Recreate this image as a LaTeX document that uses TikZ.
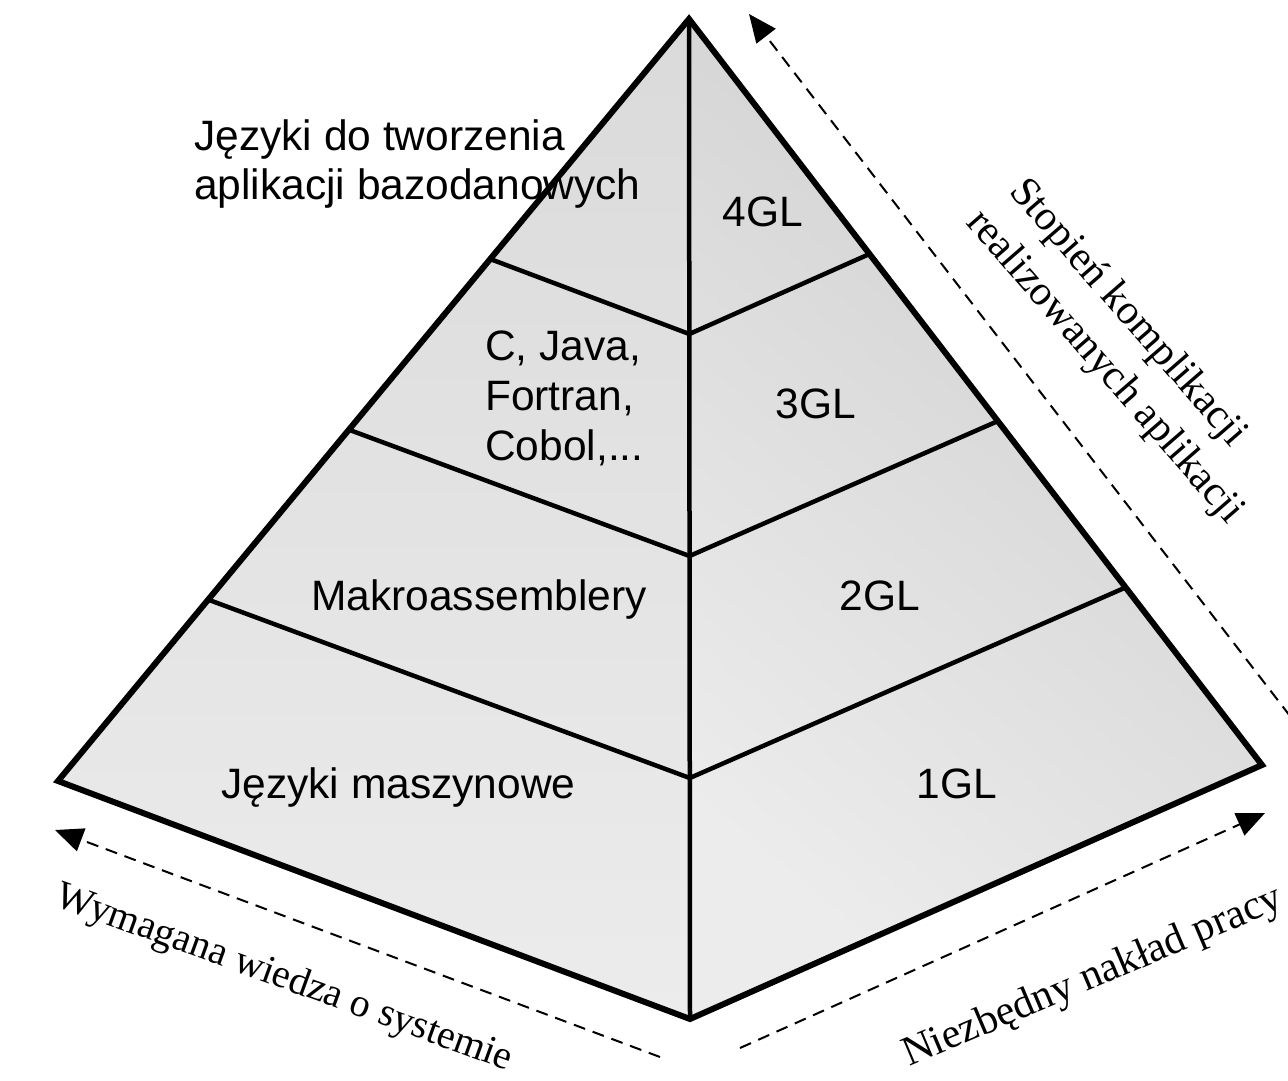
\documentclass[tikz,border=0pt]{standalone}
\usepackage{fontspec}
\newfontfamily\sansf{Liberation Sans}
\newfontfamily\seriff{Liberation Serif}
\usetikzlibrary{calc,arrows.meta}
\definecolor{faceL1}{HTML}{DADADA}
\definecolor{faceL2}{HTML}{ECECEC}
\definecolor{faceR1}{HTML}{CFCFCF}
\definecolor{faceR2}{HTML}{ECECEC}
\tikzset{
  outeredge/.style={line width=6pt, line join=miter},
  bandline/.style={line width=4.5pt},
  dasharrow/.style={line width=2pt, dash pattern=on 12pt off 8pt, -{Triangle[length=28pt,width=24pt]}},
  sanslbl/.style={font=\sansf\fontsize{42.5}{50}\selectfont, inner sep=0pt},
  seriflbl/.style={font=\seriff\fontsize{40}{48}\selectfont, inner sep=0pt},
  serifbig/.style={font=\seriff\fontsize{42}{53}\selectfont, inner sep=0pt}
}
\begin{document}
\begin{tikzpicture}[x=1pt,y=-1pt]
\useasboundingbox (0,0) rectangle (1288,1081);
% corners
\coordinate (A) at (689,19);
\coordinate (L) at (58,781);
\coordinate (R) at (1262,765);
\coordinate (B) at (690,1019);
% band points
\coordinate (l1) at ($(A)!0.315!(L)$);
\coordinate (l2) at ($(A)!0.539!(L)$);
\coordinate (l3) at ($(A)!0.762!(L)$);
\coordinate (r1) at ($(A)!0.315!(R)$);
\coordinate (r2) at ($(A)!0.539!(R)$);
\coordinate (r3) at ($(A)!0.762!(R)$);
\coordinate (c1) at ($(A)!0.315!(B)$);
\coordinate (c2) at ($(A)!0.537!(B)$);
\coordinate (c3) at ($(A)!0.759!(B)$);
% faces
\shade[top color=faceL1, bottom color=faceL2] (A) -- (L) -- (B) -- cycle;
\shade[top color=faceR1, bottom color=faceR2, shading angle=-40] (A) -- (B) -- (R) -- cycle;
% bands
\draw[bandline] (A) -- (B);
\draw[bandline] (l1) -- (c1) -- (r1);
\draw[bandline] (l2) -- (c2) -- (r2);
\draw[bandline] (l3) -- (c3) -- (r3);
\draw[outeredge] (A) -- (L) -- (B) -- (R) -- cycle;
% dashed arrows
\coordinate (ta) at (749,14);
\coordinate (te) at (1290,716);
\draw[dasharrow] (te) -- (ta);
\coordinate (la) at (55,830);
\coordinate (le) at (660,1057);
\draw[dasharrow] (le) -- (la);
\coordinate (ra) at (1265,813);
\coordinate (rs) at (740,1048);
\draw[dasharrow] (rs) -- (ra);
% labels left
\node[sanslbl, anchor=base west] (t4a) at (194,150) {Języki do tworzenia};
\node[sanslbl, anchor=base west] (t4b) at (194,199) {aplikacji bazodanowych};
\node[sanslbl, anchor=base west] (t3a) at (485,360) {C, Java,};
\node[sanslbl, anchor=base west] (t3b) at (485,410) {Fortran,};
\node[sanslbl, anchor=base west] (t3c) at (485,460) {Cobol,...};
\node[sanslbl, anchor=base west] (t2) at (311,610) {Makroassemblery};
\node[sanslbl, anchor=base west] (t1) at (221,798) {Języki maszynowe};
% labels right
\node[sanslbl, anchor=base] (g4) at (763,226) {4GL};
\node[sanslbl, anchor=base] (g3) at (816,418) {3GL};
\node[sanslbl, anchor=base] (g2) at (880,610) {2GL};
\node[sanslbl, anchor=base] (g1) at (957,798) {1GL};
% axis labels
\node[seriflbl, rotate=-20] (wym) at (284,979) {Wymagana wiedza o systemie};
\node[serifbig, rotate=23] (nak) at (1093,978) {Niezbędny nakład pracy};
\node[serifbig, rotate=-49, align=left] (st) at (1124,350) {\hspace{5pt}Stopień komplikacji\\realizowanych aplikacji};
\end{tikzpicture}
\end{document}
